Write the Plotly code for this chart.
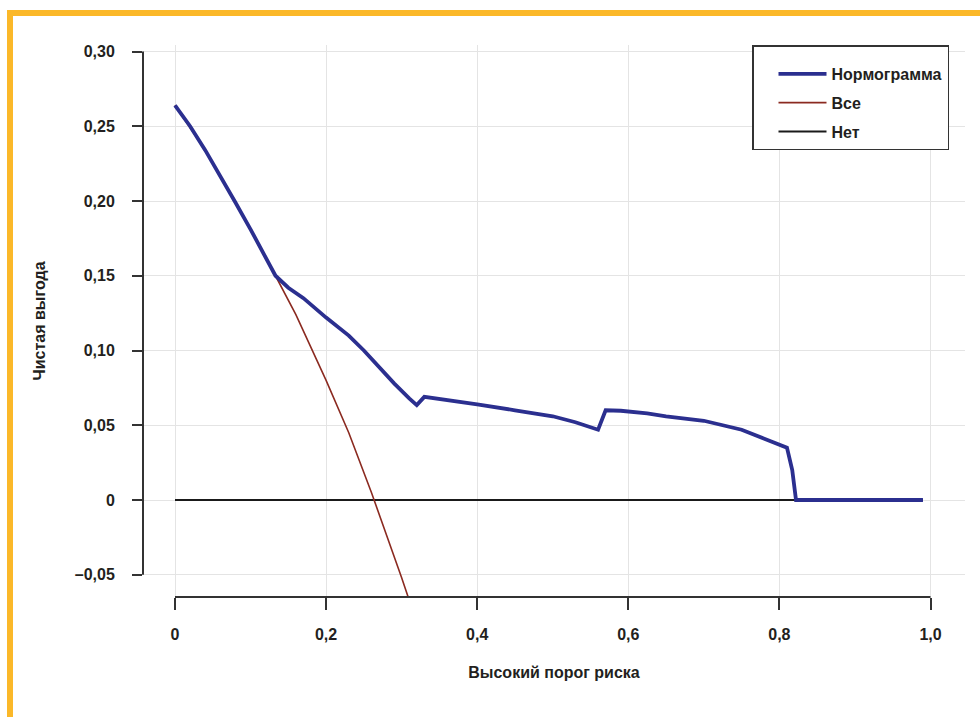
import plotly.graph_objects as go

# ---- data ----
nomogram_x = [0.00, 0.02, 0.04, 0.06, 0.08, 0.10, 0.12, 0.133, 0.15, 0.17, 0.20, 0.23,
              0.25, 0.27, 0.29, 0.31, 0.32, 0.33, 0.36, 0.40, 0.45, 0.50, 0.53, 0.56,
              0.57, 0.59, 0.625, 0.65, 0.70, 0.75, 0.78, 0.81, 0.817, 0.822, 0.99]
nomogram_y = [0.264, 0.250, 0.234, 0.217, 0.199, 0.181, 0.162, 0.150, 0.142, 0.135, 0.122, 0.110,
              0.100, 0.089, 0.078, 0.068, 0.0635, 0.069, 0.067, 0.064, 0.060, 0.056, 0.052, 0.047,
              0.060, 0.0597, 0.058, 0.056, 0.053, 0.047, 0.041, 0.035, 0.020, 0.000, 0.000]

all_x = [0.00, 0.04, 0.08, 0.10, 0.12, 0.133, 0.16, 0.20, 0.23, 0.26, 0.28, 0.30, 0.32]
all_y = [0.264, 0.234, 0.199, 0.181, 0.162, 0.150, 0.124, 0.080, 0.045, 0.005, -0.023, -0.052, -0.082]

none_x = [0.00, 0.99]
none_y = [0.0, 0.0]

series_names = ["Нормограмма", "Все", "Нет"]

x_ticks = [0, 0.2, 0.4, 0.6, 0.8, 1.0]
x_tick_labels = ["0", "0,2", "0,4", "0,6", "0,8", "1,0"]
y_ticks = [-0.05, 0, 0.05, 0.10, 0.15, 0.20, 0.25, 0.30]
y_tick_labels = ["–0,05", "0", "0,05", "0,10", "0,15", "0,20", "0,25", "0,30"]

x_title = "Высокий порог риска"
y_title = "Чистая выгода"

# ---- layout geometry (pixels) ----
W, H = 980, 717
L, R, T, B = 143, 965, 45, 597


def px_x(p):
    return (p - L) / (R - L)


def px_y(p):
    return (B - p) / (B - T)


FONT = "Liberation Sans, Arial, sans-serif"
FS = 16
TXT = "#231f20"
AXC = "#333333"

fig = go.Figure()
fig.add_trace(go.Scatter(x=none_x, y=none_y, mode="lines", name=series_names[2],
                         legendgroup="c", legendrank=3, line=dict(color="#1a1a1a", width=2)))
fig.add_trace(go.Scatter(x=all_x, y=all_y, mode="lines", name=series_names[1],
                         legendgroup="b", legendrank=2, line=dict(color="#8b2a20", width=1.6)))
fig.add_trace(go.Scatter(x=nomogram_x, y=nomogram_y, mode="lines", name=series_names[0],
                         legendgroup="a", legendrank=1, line=dict(color="#2b2f8f", width=3.8)))

x_range = [(L - 175) / 755.5, (R - 175) / 755.5]
y_range = [-(B - 500) / 1495, (500 - T) / 1495]

fig.update_layout(
    width=W, height=H,
    margin=dict(l=L, r=W - R, t=T, b=H - B, pad=0),
    paper_bgcolor="white", plot_bgcolor="white",
    font=dict(family=FONT, size=FS, color=TXT, weight="bold"),
    showlegend=True,
    legend=dict(
        x=px_x(752), y=px_y(45), xanchor="left", yanchor="top",
        traceorder="grouped", tracegroupgap=5,
        bgcolor="white", bordercolor=AXC, borderwidth=1.5,
        font=dict(family=FONT, size=FS, color=TXT, weight="bold"),
        itemwidth=48, indentation=20,
        title=dict(text=" ", font=dict(size=8)),
    ),
    xaxis=dict(
        range=x_range, tickmode="array", tickvals=x_ticks, ticktext=x_tick_labels,
        showgrid=True, gridcolor="#e4e4e4", gridwidth=1, zeroline=False,
        showline=False, ticks="outside", ticklen=12, tickwidth=2, tickcolor=AXC,
        ticklabelstandoff=11,
        title=dict(text=x_title, standoff=24, font=dict(family=FONT, size=FS, weight="bold")),
    ),
    yaxis=dict(
        range=y_range, tickmode="array", tickvals=y_ticks, ticktext=y_tick_labels,
        showgrid=True, gridcolor="#e4e4e4", gridwidth=1, zeroline=False,
        showline=False, ticks="outside", ticklen=10, tickwidth=2, tickcolor=AXC,
        ticklabelstandoff=14,
        title=dict(text=y_title, standoff=25, font=dict(family=FONT, size=FS, weight="bold")),
    ),
    shapes=[
        # y axis line (R style, only across tick span)
        dict(type="line", xref="paper", yref="y", x0=0, x1=0, y0=-0.05, y1=0.30,
             line=dict(color=AXC, width=2)),
        # x axis line
        dict(type="line", xref="x", yref="paper", x0=0, x1=1.0, y0=0, y1=0,
             line=dict(color=AXC, width=2)),
        # orange frame: top and left bars
        dict(type="rect", xref="paper", yref="paper", layer="above",
             x0=px_x(7), x1=px_x(990), y0=px_y(16), y1=px_y(10),
             fillcolor="#fbb829", line=dict(width=0)),
        dict(type="rect", xref="paper", yref="paper", layer="above",
             x0=px_x(7), x1=px_x(13), y0=px_y(730), y1=px_y(10),
             fillcolor="#fbb829", line=dict(width=0)),
    ],
)

fig.write_html("out.html")
